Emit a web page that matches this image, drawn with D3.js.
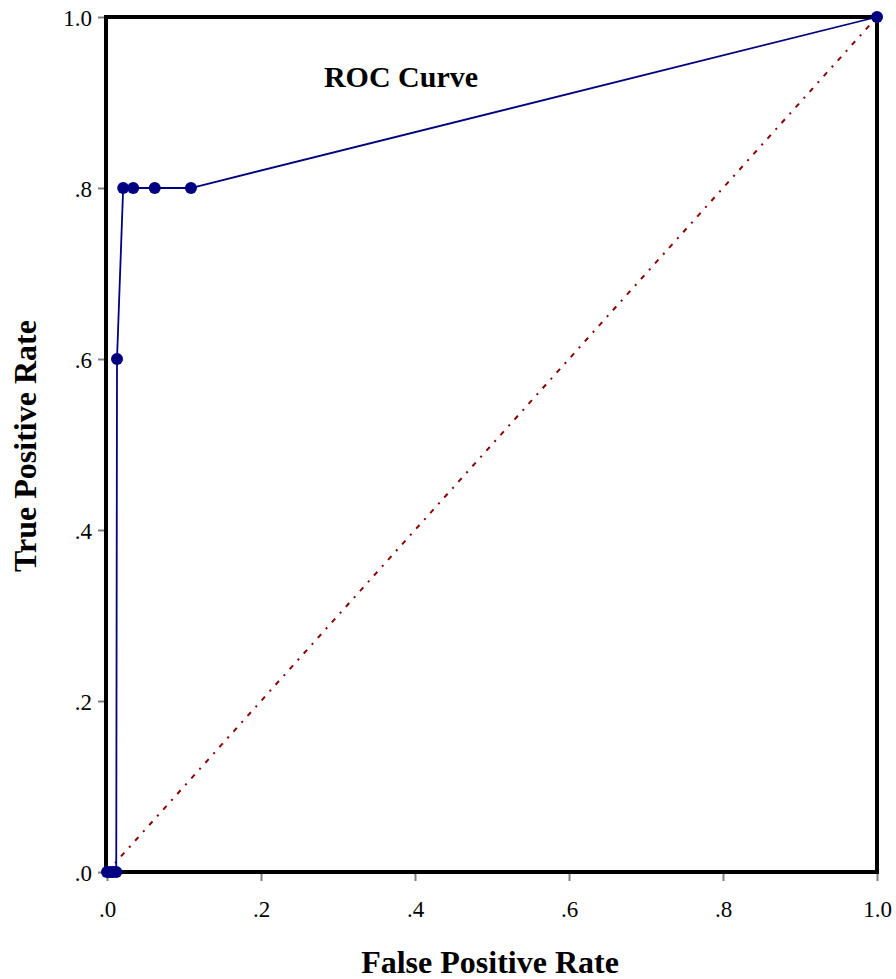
<!DOCTYPE html>
<html>
<head>
<meta charset="utf-8">
<script src="https://cdn.jsdelivr.net/npm/d3@7"></script>
<style>
  html, body { margin: 0; padding: 0; background: #fff; }
  svg { display: block; }
  svg text { font-family: "Liberation Serif", "Times New Roman", serif; }
</style>
</head>
<body>
<svg id="chart" width="896" height="979"></svg>
<script>
// ROC curve points: false positive rate vs true positive rate
const fpr = [0, 0.004, 0.008, 0.012, 0.013, 0.021, 0.034, 0.062, 0.109, 1.0];
const tpr = [0, 0, 0, 0, 0.6, 0.8, 0.8, 0.8, 0.8, 1.0];
// Chance diagonal
const diagX = [0, 1];
const diagY = [0, 1];
const tickValues = [0, 0.2, 0.4, 0.6, 0.8, 1.0];
const tickLabels = [".0", ".2", ".4", ".6", ".8", "1.0"];

const svg = d3.select("#chart");
const plotLeft = 107, plotRight = 877, plotTop = 17, plotBottom = 872;
const serif = "'Liberation Serif', 'Times New Roman', serif";

const x = d3.scaleLinear().domain([0, 1]).range([plotLeft, plotRight]);
const y = d3.scaleLinear().domain([0, 1]).range([plotBottom, plotTop]);

// Axes with short grey outside ticks
const xAxis = svg.append("g").attr("transform", `translate(0,${plotBottom + 2})`)
  .call(d3.axisBottom(x).tickValues(tickValues).tickSize(7).tickPadding(20)
    .tickFormat((d, i) => tickLabels[i]));
const yAxis = svg.append("g").attr("transform", `translate(${plotLeft - 2},0)`)
  .call(d3.axisLeft(y).tickValues(tickValues).tickSize(7).tickPadding(6)
    .tickFormat((d, i) => tickLabels[i]));
[xAxis, yAxis].forEach(g => {
  g.attr("font-family", serif);
  g.select(".domain").remove();
  g.selectAll(".tick line").attr("stroke", "#808080").attr("stroke-width", 2);
  g.selectAll(".tick text").attr("fill", "#000").attr("font-size", 23)
    .style("font-family", serif);
});
yAxis.selectAll(".tick text").attr("dy", "0.35em");

// Diagonal reference line (dash-dot)
svg.append("line")
  .attr("x1", x(diagX[0])).attr("y1", y(diagY[0]))
  .attr("x2", x(diagX[1])).attr("y2", y(diagY[1]))
  .attr("stroke", "#8b0000").attr("stroke-width", 2)
  .attr("stroke-dasharray", "5,7,2,7");

// Plot frame
svg.append("rect")
  .attr("x", plotLeft - 1).attr("y", plotTop)
  .attr("width", plotRight - plotLeft + 1).attr("height", plotBottom - plotTop)
  .attr("fill", "none").attr("stroke", "#000").attr("stroke-width", 4);

// ROC curve
const pts = fpr.map((v, i) => [v, tpr[i]]);
svg.append("path")
  .datum(pts)
  .attr("fill", "none").attr("stroke", "#000080").attr("stroke-width", 1.8)
  .attr("d", d3.line().x(d => x(d[0])).y(d => y(d[1])));

svg.selectAll("circle.pt").data(pts).join("circle")
  .attr("class", "pt")
  .attr("cx", d => x(d[0])).attr("cy", d => y(d[1]))
  .attr("r", 6).attr("fill", "#000080");

// Title and axis titles
svg.append("text").attr("x", 401).attr("y", 87)
  .attr("text-anchor", "middle").attr("font-size", 30).attr("font-weight", "bold")
  .text("ROC Curve");
svg.append("text").attr("x", 490).attr("y", 973)
  .attr("text-anchor", "middle").attr("font-size", 32).attr("font-weight", "bold")
  .text("False Positive Rate");
svg.append("text").attr("transform", "translate(36,446) rotate(-90)")
  .attr("text-anchor", "middle").attr("font-size", 32).attr("font-weight", "bold")
  .text("True Positive Rate");
</script>
</body>
</html>
